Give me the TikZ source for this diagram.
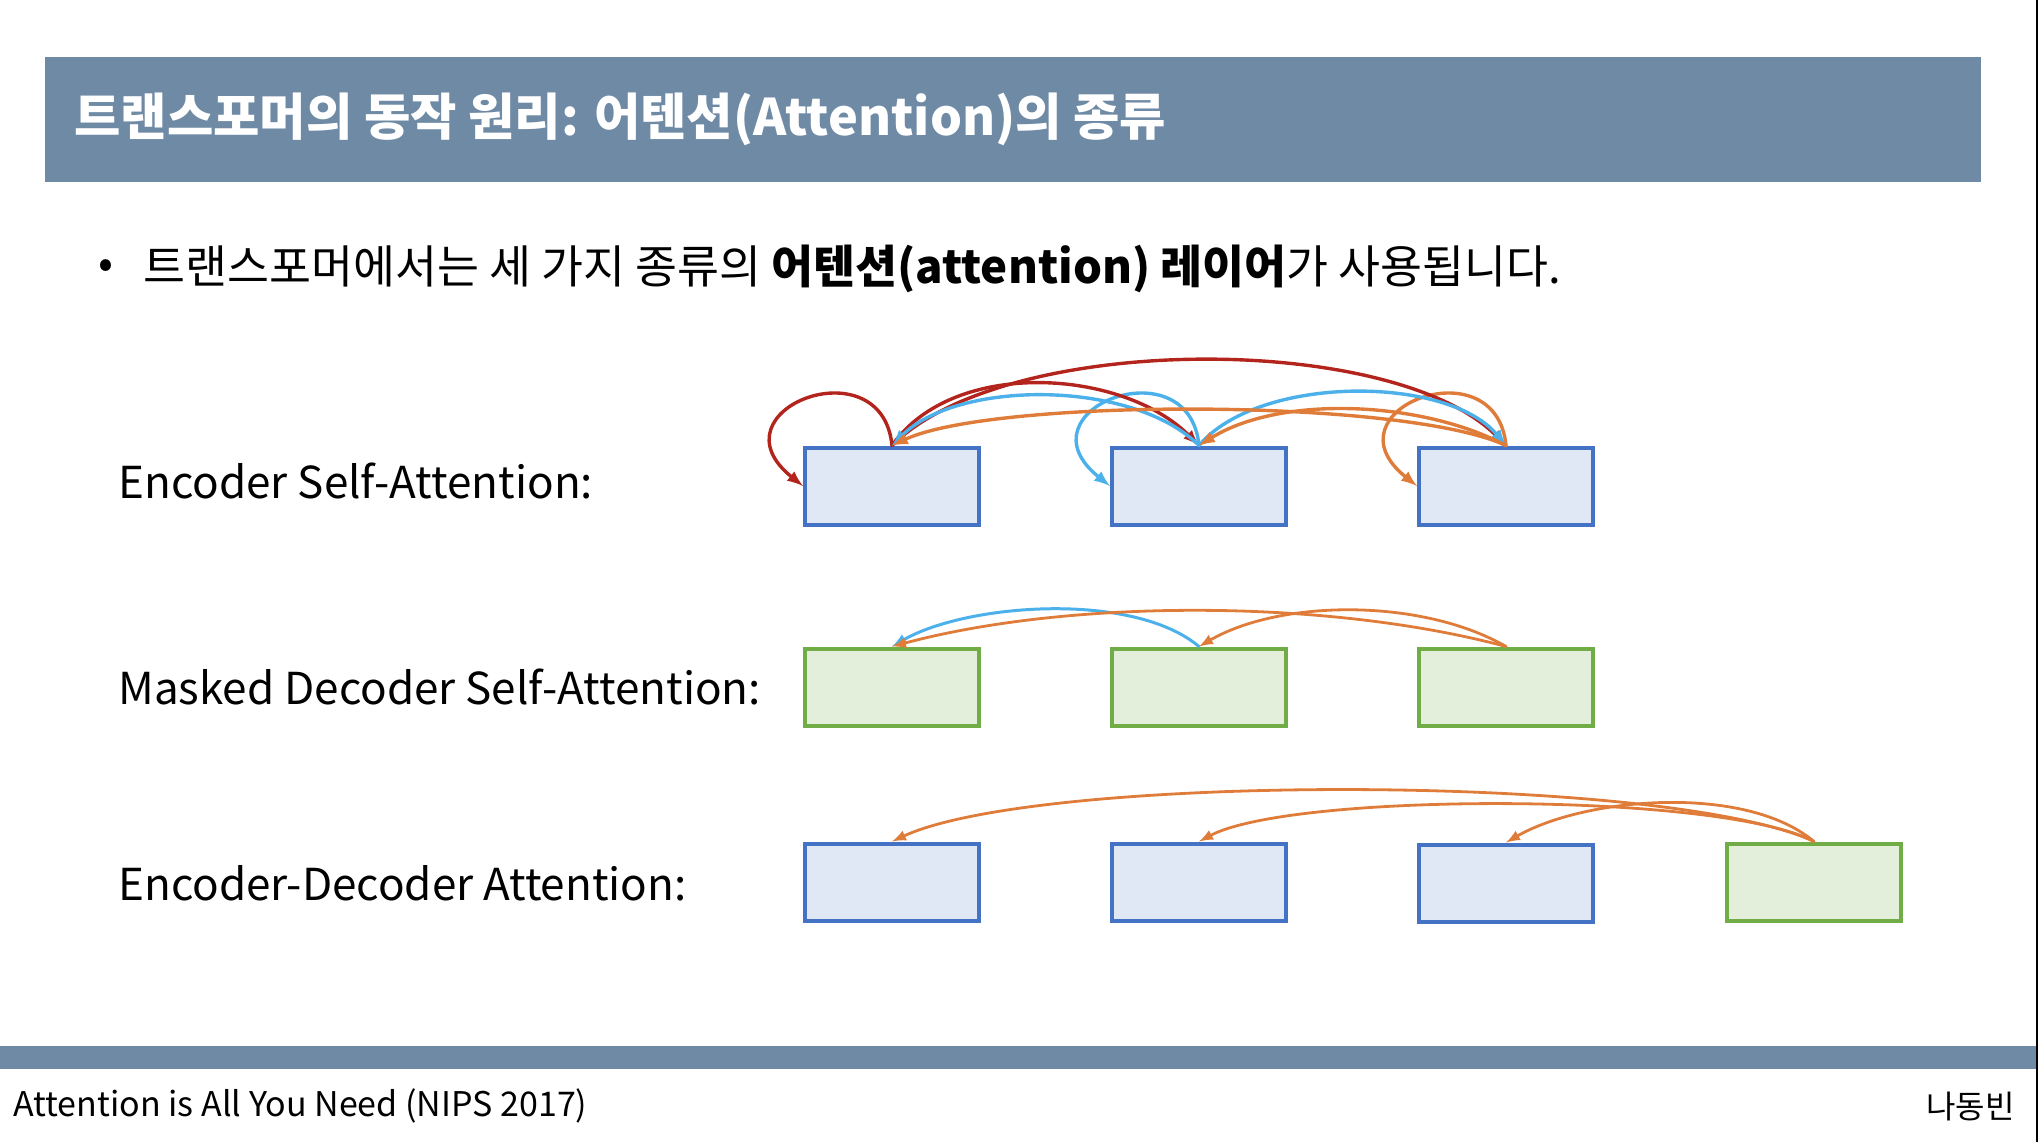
\documentclass[tikz,border=0pt]{standalone}
\usepackage{fontspec}
\setmainfont{Noto Sans CJK KR}
\usetikzlibrary{arrows}
\definecolor{headgray}{HTML}{6F8AA5}
\definecolor{encline}{HTML}{4472C4}
\definecolor{encfill}{HTML}{DFE8F4}
\definecolor{decline}{HTML}{70AD47}
\definecolor{decfill}{HTML}{E3EFDA}
\definecolor{attred}{HTML}{B3241D}
\definecolor{attblue}{HTML}{4CB1EA}
\definecolor{attorange}{HTML}{E07C3A}
\tikzset{encbox/.style={draw=encline,fill=encfill,line width=2pt,minimum width=87pt,minimum height=38.5pt,inner sep=0pt},
  decbox/.style={encbox,draw=decline,fill=decfill},
  attn/.style={->,line width=1.7pt,line cap=round},
  rowlabel/.style={anchor=west,inner sep=0pt,font=\fontsize{22}{27}\selectfont}}

\begin{document}
\begin{tikzpicture}[x=0.5pt,y=0.5pt,>=latex]
\useasboundingbox (0,0) rectangle (2038,-1142);
\fill[headgray] (45,-57) rectangle (1981,-182);
\node[anchor=west,inner sep=0pt,text=white,font=\fontsize{25.2}{30}\selectfont\bfseries] (title) at (74,-119) {트랜스포머의 동작 원리: 어텐션(Attention)의 종류};
\node[anchor=west,inner sep=0pt,font=\fontsize{22}{26}\selectfont] (dot) at (98,-269) {•};
\node[anchor=west,inner sep=0pt,font=\fontsize{22.8}{27}\selectfont] (intro) at (143,-269) {트랜스포머에서는 세 가지 종류의 \textbf{어텐션(attention) 레이어}가 사용됩니다.};
\node[rowlabel] (lab1) at (118,-481) {Encoder Self-Attention:};
\node[rowlabel] (lab2) at (118,-687) {Masked Decoder Self-Attention:};
\node[rowlabel] (lab3) at (118,-883) {Encoder-Decoder Attention:};
\foreach \i/\x in {1/892,2/1199,3/1506}{
  \node[encbox] (e\i) at (\x,-486) {};
  \node[decbox] (d\i) at (\x,-687) {};
}
\node[encbox] (c1) at (892,-882) {};
\node[encbox] (c2) at (1199,-882) {};
\node[encbox] (c3) at (1506,-883) {};
\node[decbox] (c4) at (1814,-882) {};
% encoder self-attention
\foreach \i/\c in {1/attred,2/attblue,3/attorange}{\draw[attn,\c] (e\i.north) .. controls +(-10,102) and +(-95,76) .. (e\i.west);}
\draw[attn,attred] (e1.north) to[out=55,in=135,looseness=0.9] (e2.north);
\draw[attn,attred] (e1.north) to[out=45,in=135,looseness=0.67] (e3.north);
\draw[attn,attblue] (e2.north) to[out=135,in=45,looseness=0.78] (e1.north);
\draw[attn,attblue] (e2.north) to[out=50,in=130,looseness=0.77] (e3.north);
\draw[attn,attorange] (e3.north) to[out=155,in=25,looseness=0.47] (e1.north);
\draw[attn,attorange] (e3.north) to[out=152,in=32,looseness=0.8] (e2.north);
% masked decoder self-attention
\draw[attn,attblue,line width=1.5pt] (d2.north) to[out=140,in=30,looseness=0.72] (d1.north);
\draw[attn,attorange,line width=1.4pt] (d3.north) to[out=165,in=15,looseness=0.77] (d1.north);
\draw[attn,attorange,line width=1.4pt] (d3.north) to[out=150,in=30,looseness=0.8] (d2.north);
% encoder-decoder attention
\draw[attn,attorange,line width=1.4pt] (c4.north) to[out=155,in=25,looseness=0.45] (c1.north);
\draw[attn,attorange,line width=1.4pt] (c4.north) to[out=152,in=28,looseness=0.44] (c2.north);
\draw[attn,attorange,line width=1.4pt] (c4.north) to[out=140,in=30,looseness=0.75] (c3.north);
\fill[headgray] (0,-1046) rectangle (2036,-1069);
\node[anchor=west,inner sep=0pt,font=\fontsize{17}{20}\selectfont] (paper) at (13,-1106) {Attention is All You Need (NIPS 2017)};
\node[anchor=east,inner sep=0pt,font=\fontsize{16}{20}\selectfont] (author) at (2015,-1106) {나동빈};
\fill[black] (2036,0) rectangle (2038,-1142);
\end{tikzpicture}
\end{document}
